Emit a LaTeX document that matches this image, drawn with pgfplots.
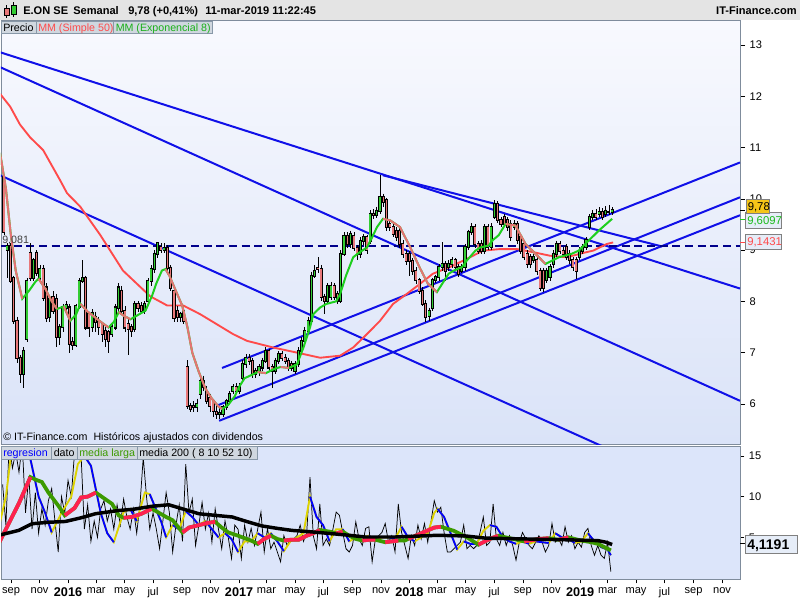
\documentclass[border=0pt]{standalone}
\usepackage{fontspec}
\setmainfont{Liberation Sans}
\usepackage{pgfplots}
\usepackage{pgfplotstable}
\pgfplotsset{compat=1.18}

\definecolor{hdrgray}{HTML}{E4E4E4}
\definecolor{framegray}{HTML}{7F8C9C}
\definecolor{bgtop}{HTML}{F8F9FE}
\definecolor{bgbot}{HTML}{DAE3F8}
\definecolor{bgpanel}{HTML}{DCE5FA}
\definecolor{tabfill}{HTML}{D0D7DF}
\definecolor{tabborder}{HTML}{8898A8}
\definecolor{candlegreen}{HTML}{33CC33}
\definecolor{candlered}{HTML}{E8787A}
\definecolor{emagreen}{HTML}{1ECF1E}
\definecolor{emasalmon}{HTML}{E57373}
\definecolor{smared}{HTML}{FF4A4A}
\definecolor{trendblue}{HTML}{1010E8}
\definecolor{dashnavy}{HTML}{00008B}
\definecolor{regyellow}{HTML}{DDD300}
\definecolor{regblue}{HTML}{0000FF}
\definecolor{mlgreen}{HTML}{3C9A00}
\definecolor{mlred}{HTML}{FF2050}
\definecolor{boxgold}{HTML}{F5C518}
\definecolor{boxfill}{HTML}{E6EDF8}

% weekly candles: k = week index (0 = first week of 2016)
\pgfplotstableread{
k o h l c
-20 10.42 10.45 9.30 9.35
-19 9.00 9.13 8.46 9.08
-18 9.08 9.13 8.35 8.40
-17 8.46 8.50 7.55 7.62
-16 7.62 7.70 6.80 6.90
-15 6.90 6.95 6.41 6.58
-14 6.58 7.10 6.31 7.04
-13 7.27 8.45 7.20 8.40
-12 8.95 9.13 8.40 8.46
-11 8.46 8.85 8.40 8.80
-10 8.95 9.00 8.50 8.55
-9 8.46 8.70 8.40 8.64
-8 8.64 8.70 8.00 8.07
-7 8.27 8.35 7.60 7.68
-6 7.70 8.10 7.60 8.05
-5 8.08 8.20 7.75 7.82
-4 8.05 8.15 7.10 7.30
-3 7.30 7.55 7.15 7.50
-2 7.50 7.95 7.40 7.88
-1 7.88 8.00 7.80 7.92
0 7.88 7.95 7.00 7.17
1 7.20 7.30 7.05 7.14
2 7.15 7.95 7.10 7.90
3 7.90 8.45 7.85 8.40
4 8.40 8.80 8.35 8.45
5 8.46 8.50 7.45 7.49
6 7.75 7.80 7.30 7.49
7 7.50 7.85 7.40 7.78
8 7.70 7.80 7.40 7.60
9 7.62 7.70 7.35 7.50
10 7.55 7.60 7.20 7.36
11 7.43 7.50 7.10 7.27
12 7.40 7.45 7.00 7.23
13 7.36 7.55 7.30 7.49
14 7.49 7.95 7.45 7.88
15 7.88 8.35 7.80 8.27
16 8.21 8.30 7.75 7.82
17 7.82 7.90 7.40 7.49
18 7.56 7.65 6.95 7.46
19 7.49 7.55 7.30 7.43
20 7.46 8.00 7.40 7.95
21 7.95 8.00 7.80 7.88
22 7.90 7.98 7.75 7.82
23 7.82 8.00 7.75 7.95
24 8.01 8.45 7.95 8.40
25 8.40 8.70 8.30 8.63
26 8.63 9.00 8.55 8.93
27 8.93 9.15 8.85 9.13
28 9.06 9.13 8.95 9.00
29 9.00 9.13 8.95 9.05
30 9.05 9.10 8.60 8.66
31 8.66 8.70 8.20 8.27
32 8.20 8.25 7.60 7.68
33 7.82 7.90 7.60 7.69
34 7.69 7.80 7.60 7.76
35 7.82 7.85 7.55 7.62
36 6.71 6.85 5.90 5.95
37 5.95 6.02 5.85 5.90
38 5.95 6.05 5.85 5.93
39 5.93 6.10 5.85 6.00
40 6.19 6.55 6.10 6.45
41 6.45 6.55 6.25 6.32
42 6.25 6.35 6.00 6.06
43 6.12 6.20 5.85 5.95
44 6.06 6.10 5.75 5.86
45 5.85 5.95 5.70 5.80
46 5.80 5.95 5.70 5.82
47 5.80 5.98 5.75 5.93
48 5.93 6.10 5.88 6.06
49 6.06 6.25 6.00 6.19
50 6.25 6.38 6.20 6.32
51 6.32 6.40 6.20 6.26
52 6.26 6.40 6.20 6.32
53 6.51 6.85 6.45 6.77
54 6.77 6.97 6.70 6.90
55 6.90 6.97 6.75 6.84
56 6.84 6.90 6.50 6.58
57 6.64 6.70 6.50 6.58
58 6.64 6.78 6.55 6.71
59 6.71 6.90 6.65 6.84
60 6.84 7.10 6.80 7.03
61 7.03 7.08 6.65 6.71
62 6.71 6.78 6.30 6.64
63 6.64 6.90 6.58 6.84
64 6.84 7.03 6.78 6.97
65 6.97 7.03 6.84 6.90
66 6.90 6.97 6.78 6.84
67 6.84 6.90 6.64 6.71
68 6.77 6.84 6.64 6.71
69 6.64 6.84 6.58 6.77
70 6.77 7.10 6.72 7.03
71 7.03 7.30 6.97 7.23
72 7.23 7.50 7.18 7.42
73 7.42 7.70 7.38 7.62
74 7.62 8.58 7.58 8.50
75 8.50 8.70 8.45 8.60
76 8.66 8.86 8.55 8.63
77 8.63 8.70 8.00 8.08
78 8.08 8.15 7.75 8.01
79 8.01 8.35 7.95 8.30
80 8.08 8.38 8.02 8.30
81 8.30 8.36 8.02 8.08
82 8.14 8.20 7.95 8.01
83 8.01 9.00 7.97 8.92
84 8.92 9.35 8.88 9.28
85 9.28 9.35 9.05 9.12
86 9.12 9.38 9.05 9.32
87 9.28 9.35 8.98 9.05
88 9.05 9.10 8.80 8.92
89 8.92 9.25 8.85 9.18
90 9.18 9.32 9.10 9.25
91 9.25 9.30 8.92 9.00
92 9.18 9.78 9.12 9.71
93 9.71 9.80 9.60 9.68
94 9.68 9.85 9.62 9.77
95 9.77 10.46 9.70 10.03
96 10.03 10.10 9.85 9.93
97 9.97 10.02 9.38 9.45
98 9.51 9.58 9.38 9.45
99 9.45 9.52 9.25 9.32
100 9.38 9.45 9.18 9.25
101 9.38 9.45 9.05 9.12
102 9.12 9.20 8.85 8.92
103 8.92 9.00 8.70 8.79
104 8.92 8.98 8.50 8.79
105 8.79 8.85 8.52 8.60
106 8.60 8.67 8.34 8.41
107 8.41 8.46 8.15 8.21
108 8.21 8.28 7.90 7.95
109 7.95 8.02 7.60 7.69
110 7.72 7.88 7.62 7.82
111 7.88 8.46 7.82 8.41
112 8.41 8.52 8.35 8.47
113 8.47 8.72 8.40 8.67
114 8.67 9.15 8.60 8.73
115 8.73 8.78 8.40 8.60
116 8.67 8.80 8.60 8.73
117 8.73 8.86 8.66 8.80
118 8.80 8.85 8.60 8.67
119 8.67 8.72 8.48 8.54
120 8.60 8.72 8.55 8.67
121 8.67 9.12 8.60 9.06
122 9.06 9.40 9.00 9.35
123 9.35 9.52 9.30 9.45
124 9.45 9.50 9.05 9.12
125 9.12 9.18 8.92 8.99
126 9.12 9.20 8.92 8.99
127 8.99 9.50 8.93 9.45
128 9.45 9.50 9.00 9.06
129 9.06 9.52 9.00 9.45
130 9.64 9.97 9.60 9.90
131 9.90 9.95 9.52 9.58
132 9.58 9.65 9.45 9.51
133 9.64 9.70 9.45 9.51
134 9.58 9.64 9.38 9.45
135 9.51 9.58 9.18 9.25
136 9.45 9.58 9.40 9.51
137 9.51 9.56 9.12 9.19
138 9.25 9.30 8.92 8.99
139 9.12 9.18 8.80 8.86
140 8.93 9.00 8.66 8.73
141 8.86 8.92 8.66 8.73
142 8.80 8.92 8.74 8.86
143 8.80 8.86 8.52 8.60
144 8.60 8.66 8.20 8.27
145 8.60 8.66 8.18 8.27
146 8.41 8.66 8.35 8.60
147 8.47 8.73 8.40 8.67
148 8.73 9.00 8.66 8.93
149 8.93 9.18 8.86 9.12
150 9.12 9.18 8.92 8.99
151 8.99 9.06 8.86 8.93
152 9.06 9.12 8.80 8.86
153 8.93 9.00 8.73 8.80
154 8.80 8.86 8.60 8.67
155 8.80 8.86 8.44 8.60
156 8.86 9.06 8.80 8.99
157 8.99 9.12 8.93 9.06
158 9.06 9.25 9.00 9.19
159 9.45 9.70 9.40 9.64
160 9.64 9.78 9.58 9.71
161 9.71 9.80 9.58 9.64
162 9.71 9.84 9.65 9.74
163 9.74 9.82 9.58 9.64
164 9.71 9.86 9.65 9.77
165 9.74 9.88 9.68 9.74
166 9.74 9.84 9.68 9.78
}\candles

% lower panel, weekly "dato"
\pgfplotstableread{
k v
-20 11.5
-19 6.5
-18 16.5
-17 13.5
-16 15.5
-15 13
-14 16.5
-13 8
-12 12.5
-11 6
-10 10.5
-9 5.5
-8 8.5
-7 6.5
-6 9.5
-5 11
-4 7
-3 3.2
-2 10
-1 8
0 12
1 10
2 15.5
3 16.5
4 15
5 6
6 9
7 4.5
8 7
9 5
10 8.5
11 9.5
12 7
13 8.5
14 6
15 9
16 6.5
17 9.7
18 7.5
19 6
20 8.5
21 5.5
22 9
23 14.8
24 10
25 6
26 8
27 6
28 3.6
29 7
30 10.5
31 8
32 3.2
33 6.5
34 9
35 4.5
36 14
37 8
38 9.7
39 4
40 6.5
41 9.3
42 6
43 8
44 4.4
45 8.5
46 6
47 3.6
48 7
49 5
50 2.4
51 6.5
52 6
53 2.4
54 6.5
55 4.4
56 6.1
57 4
58 6
59 8.1
60 3.2
61 6.1
62 3.6
63 4.4
64 3.2
65 2
66 5.2
67 4
68 4.8
69 4.8
70 5.2
71 6.5
72 4.5
73 5.6
74 12.4
75 5.2
76 3.6
77 9.1
78 4
79 4.8
80 4
81 6
82 8.1
83 7.7
84 5.6
85 3.6
86 3.2
87 4
88 6.9
89 4.8
90 4
91 6.1
92 6.3
93 2
94 4.8
95 5.2
96 5.6
97 6.7
98 4.4
99 5.2
100 3.2
101 9.1
102 5.6
103 4
104 2.4
105 5.2
106 4
107 6.5
108 4.8
109 6.7
110 4.4
111 6.9
112 9.5
113 8.1
114 8.7
115 5.6
116 3.2
117 3.2
118 3.6
119 4
120 4.4
121 6.5
122 3.6
123 4
124 3.6
125 4
126 5.6
127 7.5
128 4
129 4.4
130 9.1
131 4.8
132 4
133 5.6
134 4
135 5.2
136 4
137 2.2
138 4.4
139 5.6
140 4.8
141 4
142 3.6
143 4.4
144 5.2
145 4.4
146 3.2
147 4
148 6.7
149 4.4
150 4.8
151 4
152 6.3
153 4.4
154 5.2
155 3.6
156 4.4
157 3.8
158 5.6
159 6.1
160 4
161 2.8
162 4
163 2.8
164 2.4
165 4.4
166 0.8
}\dato

% vertical segments drawn as error bars; #1 colour, #2 width
\pgfplotsset{
  candle/.style 2 args={draw=none, mark=none,
    error bars/.cd, y dir=minus, y explicit, error mark=none,
    error bar style={draw=#1, line width=#2, solid}},
}

\begin{document}
\begin{tikzpicture}[x=0.75pt,y=-0.75pt,font=\fontsize{8}{9.6}\selectfont]
\path[use as bounding box, fill=white] (0,0) rectangle (800,600);
\fill[hdrgray] (0,0) rectangle (800,19.5);

% ---------------- price panel ----------------
\begin{axis}[
  at={(0.75pt,-15pt)}, anchor=north west, scale only axis,
  width=554.25pt, height=318pt,
  xmin=-20.5, xmax=205.5, ymin=5.217, ymax=13.489,
  axis background/.style={top color=bgtop, bottom color=bgbot},
  axis line style={framegray},
  xtick=\empty, ytick={6,...,13}, ytick pos=right, tick align=outside,
  major tick length=3.75pt, ytick style={black, line width=0.5pt},
  tick label style={font=\fontsize{8.3}{10}\selectfont},
  /pgf/number format/assume math mode=true,
  unbounded coords=jump,
]
% trend lines
\addplot[trendblue, line width=1.5pt] coordinates {(-20.8,12.86) (205.5,8.25)};
\addplot[trendblue, line width=1.5pt] coordinates {(96.3,10.46) (181.7,9.07)};
\addplot[trendblue, line width=1.5pt] coordinates {(-20.8,12.57) (205.5,6.06)};
\addplot[trendblue, line width=1.5pt] coordinates {(-20.8,10.46) (165,5.126)};
\addplot[trendblue, line width=1.5pt] coordinates {(47.1,6.70) (205.5,10.71)};
\addplot[trendblue, line width=1.5pt] coordinates {(45.3,5.96) (205.5,10.03)};
\addplot[trendblue, line width=1.5pt] coordinates {(46.2,5.67) (205.5,9.68)};
\addplot[dashnavy, line width=1.5pt, dash pattern=on 6pt off 3.5pt] coordinates {(-20.5,9.081) (205.5,9.081)};
% SMA 50
\addplot[smared, line width=1.4pt] coordinates {
(-20.8,12.05) (-17.7,11.8) (-14.7,11.45) (-11.6,11.2) (-7.6,10.95) (-2.4,10.36) (-0.3,10.11)
(3.7,9.85) (9.8,9.3) (16.8,8.6) (25.1,8.1) (30.3,7.92) (35.2,7.92) (40.4,7.75) (50.5,7.36)
(54.7,7.23) (62.7,7.1) (70.0,7.0) (77.1,6.9) (83.2,6.94) (87.2,7.1) (91.4,7.36) (95.4,7.62)
(99.4,7.95) (103.7,8.15) (107.6,8.34) (111.6,8.54) (116.8,8.67) (122.0,8.83) (126.9,8.99)
(132.1,9.02) (137.3,9.02) (142.2,8.96) (147.4,8.89) (152.6,8.86) (156.6,8.93) (160.6,8.99)
(164.8,9.12) (166.7,9.15)};
% candles: wicks, outlines, bodies
\addplot[candle={black}{0.45pt}] table[x expr=\thisrow{k}+0.4, y=h,
  y error minus expr=\thisrow{h}-\thisrow{l}] {\candles};
\addplot[candle={black}{2.3pt}] table[x expr=\thisrow{k}+0.4,
  y expr={max(\thisrow{o},\thisrow{c})+0.02},
  y error minus expr={abs(\thisrow{c}-\thisrow{o})+0.04}] {\candles};
\addplot[restrict expr to domain={\thisrow{c}-\thisrow{o}}{0:100},
  candle={candlegreen}{1.1pt}] table[x expr=\thisrow{k}+0.4, y=c,
  y error minus expr=\thisrow{c}-\thisrow{o}] {\candles};
\addplot[restrict expr to domain={\thisrow{o}-\thisrow{c}}{0.0001:100},
  candle={candlered}{1.1pt}] table[x expr=\thisrow{k}+0.4, y=o,
  y error minus expr=\thisrow{o}-\thisrow{c}] {\candles};
% EMA 8 (green rising, salmon falling)
\addplot[emagreen, line width=1.5pt] coordinates {
(-20.8,10.9) (-19,10.2) (-17.5,9.3) (-16,8.6) (-14,8.05) (-12,8.2) (-10,8.38) (-9,8.44)
(-7,8.25) (-5,8.0) (-3.4,7.85) (-1.3,7.9) (0.7,7.62) (2.5,7.75) (3.8,7.95) (6,7.8) (8,7.7)
(10,7.6) (12.4,7.49) (14,7.6) (15.5,7.79) (17,7.72) (19.1,7.65) (21,7.72) (23.7,7.82)
(25.7,8.11) (27,8.35) (28.7,8.6) (29.8,8.63) (31,8.5) (33,8.2) (34.9,7.92) (36.5,7.5)
(38,7.0) (39.9,6.64) (42,6.3) (44,6.1) (46,5.95) (47.1,5.9) (49,5.98) (51,6.15) (52.2,6.32)
(54,6.5) (56,6.56) (58,6.62) (60.5,6.6) (63,6.68) (65,6.72) (67.5,6.7) (70,6.77) (72,7.1)
(74,7.49) (75,7.75) (77.1,7.88) (79,7.95) (82,8.0) (83.2,8.14) (85,8.5) (87.2,8.86) (89,8.95)
(91.4,9.05) (93,9.25) (94.5,9.45) (96.3,9.61) (98.5,9.58) (101.5,9.45) (104.6,9.06)
(107.6,8.65) (110,8.35) (112.8,8.18) (114.5,8.35) (116.4,8.54) (118,8.6) (120.5,8.67)
(122,8.8) (124.6,8.99) (126,9.05) (128.6,9.09) (130,9.2) (131.7,9.29) (133.8,9.51)
(136.8,9.48) (139.9,9.12) (144,8.86) (146,8.73) (150.1,8.86) (154.1,8.93) (156.2,8.99)
(158.2,9.12) (162.3,9.38) (166.4,9.61)};
\addplot[emasalmon, line width=1.5pt] coordinates {
(-20.8,10.9) (-19,10.2) (-17.5,9.3) (-16,8.6) (-14,8.05) (-14,nan)
(-9,8.44) (-7,8.25) (-5,8.0) (-3.4,7.85) (-3.4,nan)
(-1.3,7.9) (0.7,7.62) (0.7,nan)
(3.8,7.95) (6,7.8) (8,7.7) (10,7.6) (12.4,7.49) (12.4,nan)
(15.5,7.79) (17,7.72) (19.1,7.65) (19.1,nan)
(29.8,8.63) (31,8.5) (33,8.2) (34.9,7.92) (36.5,7.5) (38,7.0) (39.9,6.64) (42,6.3) (44,6.1)
(46,5.95) (47.1,5.9) (47.1,nan)
(58,6.62) (60.5,6.6) (60.5,nan)
(65,6.72) (67.5,6.7) (67.5,nan)
(96.3,9.61) (98.5,9.58) (101.5,9.45) (104.6,9.06) (107.6,8.65) (110,8.35) (112.8,8.18) (112.8,nan)
(133.8,9.51) (136.8,9.48) (139.9,9.12) (144,8.86) (146,8.73)};
\end{axis}

% ---------------- indicator panel ----------------
\begin{axis}[
  at={(0.75pt,-334.5pt)}, anchor=north west, scale only axis,
  width=554.25pt, height=99.75pt,
  xmin=-20.5, xmax=205.5, ymin=-0.12, ymax=16.22,
  axis background/.style={fill=bgpanel},
  axis line style={framegray},
  ytick={5,10,15}, ytick pos=right, xtick pos=bottom, tick align=outside,
  major tick length=3.2pt, tick style={black, line width=0.5pt},
  tick label style={font=\fontsize{8.3}{10}\selectfont},
  /pgf/number format/assume math mode=true,
  xtick={-17.4,-8.7,0,8.6,17.3,26,34.9,43.6,52.3,60.7,69.4,78.1,87,95.7,104.4,112.9,121.6,130.3,139.1,147.9,156.6,165,173.7,182.4,191.3,200},
  xticklabels={sep,nov,\textbf{\fontsize{9.5}{11}\selectfont 2016},mar,may,jul,sep,nov,\textbf{\fontsize{9.5}{11}\selectfont 2017},mar,may,jul,sep,nov,\textbf{\fontsize{9.5}{11}\selectfont 2018},mar,may,jul,sep,nov,\textbf{\fontsize{9.5}{11}\selectfont 2019},mar,may,jul,sep,nov},
  xticklabel style={yshift=0.5pt},
  unbounded coords=jump,
]
\addplot[black, line width=0.55pt] table[x=k, y=v] {\dato};
% regresion: yellow rising, blue falling
\addplot[regyellow, line width=1.4pt] coordinates {
(-21,6.5) (-19,10) (-17,16.5) (-14,16.5) (-11.5,14.6) (-9,10) (-7,8) (-5,5.6) (-2,8) (1,10)
(3,14) (5,15) (7,13.8) (10,8) (12,5.5) (14,4.4) (17,8.1) (19,8.5) (21,7) (23.5,10.5) (25,10.3)
(28.5,6.9) (30,5) (32,6.5) (34,6) (36,8.2) (38,7.5) (40,6.5) (42,7) (44,6) (46,5) (48,5.5)
(50,4.8) (52,3.2) (54,4.5) (56,4.5) (58,5.5) (60,5) (62,5.5) (64,4.5) (66,3.3) (68,4.5) (70,5)
(72,5.5) (74,10) (76,7.5) (78,6.5) (80,4.5) (82,6) (84,6) (86,4.5) (88,5) (90,5) (92,5.2)
(94,4.6) (96,5) (98,5) (100,4.8) (102,6.3) (104,5) (106,4.5) (108,5) (110,5.5) (112,8)
(113,8.5) (115,7.5) (117,5.5) (119,3.5) (121,4.5) (123,4.2) (125,4.2) (127,5.8) (129,6.5)
(131,6.3) (133,5) (135,4.5) (137,4.2) (139,4.5) (141,4.2) (143,4.5) (145,4.4) (147,4.3)
(149,5.5) (151,5) (153,4.8) (155,4.3) (157,4.5) (159,5.5) (161,4.5) (163,3.8) (165,3.5) (166,2.8)};
\addplot[regblue, line width=1.4pt] coordinates {
(-14,16.5) (-11.5,14.6) (-9,10) (-7,8) (-5,5.6) (-5,nan)
(5,15) (7,13.8) (10,8) (12,5.5) (14,4.4) (14,nan)
(19,8.5) (21,7) (21,nan)
(25,10.3) (28.5,6.9) (30,5) (30,nan)
(32,6.5) (34,6) (34,nan)
(36,8.2) (38,7.5) (40,6.5) (40,nan)
(42,7) (44,6) (46,5) (46,nan)
(48,5.5) (50,4.8) (52,3.2) (52,nan)
(58,5.5) (60,5) (60,nan)
(62,5.5) (64,4.5) (66,3.3) (66,nan)
(74,10) (76,7.5) (78,6.5) (80,4.5) (80,nan)
(84,6) (86,4.5) (86,nan)
(92,5.2) (94,4.6) (94,nan)
(98,5) (100,4.8) (100,nan)
(102,6.3) (104,5) (106,4.5) (106,nan)
(113,8.5) (115,7.5) (117,5.5) (119,3.5) (119,nan)
(121,4.5) (123,4.2) (125,4.2) (125,nan)
(129,6.5) (131,6.3) (133,5) (135,4.5) (137,4.2) (137,nan)
(139,4.5) (141,4.2) (141,nan)
(143,4.5) (145,4.4) (147,4.3) (147,nan)
(149,5.5) (151,5) (153,4.8) (155,4.3) (155,nan)
(159,5.5) (161,4.5) (163,3.8) (165,3.5) (166,2.8)};
% media larga: red rising, green falling
\addplot[mlgreen, line width=2.8pt] coordinates {
(-21,4.4) (-18,6.8) (-15,9.2) (-11.5,12.4) (-10,12.1) (-8,11.8) (-6,10.5) (-3,8.9) (-1,7.7)
(2,8.6) (4,9.9) (6,10.0) (8.5,10.5) (11,9.8) (13.5,9.1) (15.5,7.7) (17,7.4) (19.5,7.5)
(22.5,7.9) (25.5,8.5) (27,8.2) (30,7.5) (32,7.1) (35,5.6) (37,6.2) (40,6.5) (43,6.8) (45,6.9)
(47,6.2) (49,5.6) (52,5.2) (56,4.6) (58,4.2) (60,4.8) (62,5.2) (64,4.8) (66,4.6) (68,4.7)
(70.5,4.7) (73,5.2) (75,5.5) (77,5.9) (80,5.7) (82,5.5) (84,5.7) (86,5.2) (88,4.8) (90,4.6)
(92,4.7) (94,4.7) (96,4.5) (97,4.4) (99,4.5) (101,4.6) (103,4.6) (104,4.8) (108,5.5) (112,6.2)
(114,6.3) (118,5.8) (122,5.0) (125.5,4.1) (129,4.8) (131.5,5.2) (135,4.9) (139.5,4.5) (144,4.8)
(147,4.9) (150,4.7) (153,5.0) (157,4.6) (160,4.4) (162,4.2) (166,3.4)};
\addplot[mlred, line width=2.8pt] coordinates {
(-21,4.4) (-18,6.8) (-15,9.2) (-11.5,12.4) (-11.5,nan)
(-1,7.7) (2,8.6) (4,9.9) (6,10.0) (8.5,10.5) (8.5,nan)
(17,7.4) (19.5,7.5) (22.5,7.9) (25.5,8.5) (25.5,nan)
(35,5.6) (37,6.2) (40,6.5) (43,6.8) (45,6.9) (45,nan)
(58,4.2) (60,4.8) (62,5.2) (62,nan)
(66,4.6) (68,4.7) (70.5,4.7) (73,5.2) (75,5.5) (77,5.9) (77,nan)
(82,5.5) (84,5.7) (84,nan)
(90,4.6) (92,4.7) (94,4.7) (94,nan)
(97,4.4) (99,4.5) (101,4.6) (101,nan)
(104,4.8) (108,5.5) (112,6.2) (114,6.3) (114,nan)
(125.5,4.1) (129,4.8) (131.5,5.2) (131.5,nan)
(139.5,4.5) (144,4.8) (147,4.9) (147,nan)
(150,4.7) (153,5.0)};
% media 200
\addplot[black, line width=2.6pt] coordinates {
(-21.2,5.25) (-15.1,5.85) (-11,6.67) (-6,6.85) (-0.8,6.95) (4,7.4) (8.4,7.9) (15.5,8.3)
(20,8.45) (25.7,8.82) (30.8,9.0) (35,8.5) (40,7.9) (45,7.7) (50.2,7.5) (55,6.9) (59.3,6.4)
(64,6.1) (68.5,5.85) (73.6,5.7) (80.7,5.45) (86,5.25) (90.9,5.04) (100,5.04) (113,5.25)
(121.5,5.17) (127.7,4.9) (140,4.8) (152.2,4.7) (162,4.6) (164.5,4.4) (166.4,4.12)};
\end{axis}

% ---------------- header ----------------
\fill[candlered, draw=black, line width=0.4pt] (4,8) rectangle (9,15);
\draw[black, line width=0.4pt] (6.5,5) -- (6.5,8) (6.5,15) -- (6.5,18);
\fill[candlegreen, draw=black, line width=0.4pt] (11,5) rectangle (16,14);
\draw[black, line width=0.4pt] (13.5,2) -- (13.5,5) (13.5,14) -- (13.5,17);
\begin{scope}[font=\fontsize{8.3}{10}\selectfont\bfseries]
\node[anchor=base west, inner sep=0] at (23,14) {E.ON SE};
\node[anchor=base west, inner sep=0] at (73,14) {Semanal};
\node[anchor=base west, inner sep=0] at (128,14) {9,78 (+0,41\%)};
\node[anchor=base west, inner sep=0] at (205,14) {11-mar-2019 11:22:45};
\node[anchor=base east, inner sep=0] at (797,14) {IT-Finance.com};
\end{scope}

% ---------------- legend tabs ----------------
\draw[tabborder, fill=tabfill] (1.5,21) rectangle (36,33.5);
\draw[tabborder, fill=tabfill] (36,21) rectangle (113,33.5);
\draw[tabborder, fill=tabfill] (113,21) rectangle (212,33.5);
\node[anchor=base west, inner sep=0] at (3,31) {Precio};
\node[anchor=base west, inner sep=0, text=smared] at (38,31) {MM (Simple 50)};
\node[anchor=base west, inner sep=0, text=emagreen!85!black] at (115.5,31) {MM (Exponencial 8)};

\draw[tabborder, fill=tabfill] (1.5,446.5) rectangle (51,459);
\draw[tabborder, fill=tabfill] (51,446.5) rectangle (77,459);
\draw[tabborder, fill=tabfill] (77,446.5) rectangle (137,459);
\draw[tabborder, fill=tabfill] (137,446.5) rectangle (257,459);
\node[anchor=base west, inner sep=0, text=regblue] at (3,456.5) {regresion};
\node[anchor=base west, inner sep=0] at (53.5,456.5) {dato};
\node[anchor=base west, inner sep=0, text=mlgreen] at (79,456.5) {media larga};
\node[anchor=base west, inner sep=0] at (139,456.5) {media 200 ( 8 10 52 10)};

\node[anchor=base west, inner sep=0] at (3,440) {© IT-Finance.com\ \ Históricos ajustados con dividendos};
\node[anchor=base west, inner sep=0, text=black!75, font=\fontsize{8}{9.6}\selectfont] at (2,243) {9,081};

% ---------------- value boxes ----------------
\draw[black, line width=0.5pt] (740,210) -- (745,210);
\draw[emagreen, line width=0.5pt] (740,219) -- (745,219);
\draw[smared, line width=0.5pt] (740,242) -- (745,242);
\draw[gray, fill=boxfill] (745,212.5) rectangle (781,228.5);
\node[anchor=base west, inner sep=0, text=emagreen!90!black, font=\fontsize{8.5}{10}\selectfont] at (747,224.5) {9,6097};
\draw[gray, fill=boxgold] (746,199) rectangle (769,213);
\node[anchor=base west, inner sep=0, font=\fontsize{8.5}{10}\selectfont] at (747.5,210) {9,78};
\draw[gray, fill=boxfill] (745,234) rectangle (781,249.5);
\node[anchor=base west, inner sep=0, text=smared, font=\fontsize{8.5}{10}\selectfont] at (747,245.5) {9,1431};

\draw[black, line width=0.5pt] (740,543) -- (745,543);
\draw[gray, fill=boxfill] (745,535) rectangle (797,553);
\node[anchor=base west, inner sep=0, font=\fontsize{10.5}{12}\selectfont\bfseries] at (747,549) {4,1191};
\end{tikzpicture}
\end{document}
